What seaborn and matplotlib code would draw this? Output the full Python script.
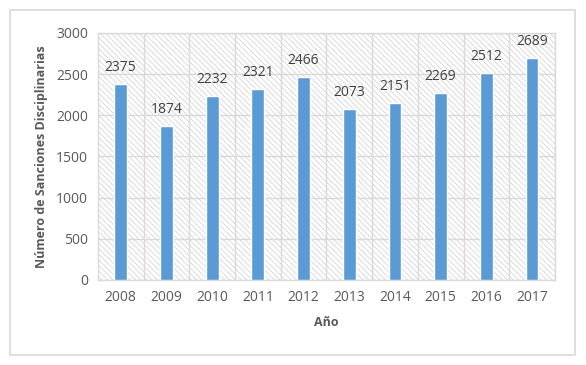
import seaborn as sns
import matplotlib.pyplot as plt
import matplotlib.patches as mpatches
import numpy as np
import pandas as pd

anios = ['2008', '2009', '2010', '2011', '2012', '2013', '2014', '2015', '2016', '2017']
sanciones = [2375, 1874, 2232, 2321, 2466, 2073, 2151, 2269, 2512, 2689]

df = pd.DataFrame({'Año': anios, 'Sanciones': sanciones})

sns.set_style('white')
plt.rcParams['font.family'] = ['Open Sans', 'DejaVu Sans']
plt.rcParams['hatch.color'] = '#D6D6D6'
plt.rcParams['hatch.linewidth'] = 0.6

texto = '#595959'
rejilla = '#D9D9D9'

fig = plt.figure(figsize=(5.86, 3.65), dpi=100)
ax = fig.add_axes([0.167, 0.233, 0.780, 0.677])

# fondo rayado del area de trazado
fondo = mpatches.Rectangle((0, 0), 1, 1, transform=ax.transAxes, facecolor='white',
                           edgecolor='#D6D6D6', hatch='\\' * 6, linewidth=0, zorder=0)
ax.add_patch(fondo)

sns.barplot(data=df, x='Año', y='Sanciones', color='#5B9BD5', width=0.28,
            saturation=1, ax=ax, zorder=3)

for i, v in enumerate(sanciones):
    ax.text(i, v + 110, str(v), ha='center', va='bottom', fontsize=10, color='#404040', zorder=4)

ax.set_ylim(0, 3000)
ax.set_xlim(-0.5, len(anios) - 0.5)
ax.set_yticks(np.arange(0, 3001, 500))
ax.set_xticks(np.arange(len(anios)) + 0.5, minor=True)
ax.grid(axis='y', color=rejilla, linewidth=1, zorder=1)
ax.grid(axis='x', which='minor', color=rejilla, linewidth=1, zorder=1)
ax.grid(axis='x', which='major', visible=False)
ax.set_axisbelow(True)
ax.tick_params(axis='both', which='both', length=0, labelsize=10, labelcolor=texto, pad=7)

for s in ax.spines.values():
    s.set_color(rejilla)
    s.set_linewidth(1)

ax.set_xlabel('Año', fontsize=9, fontweight='bold', color=texto, labelpad=8)
ax.set_ylabel('Número de Sanciones Disciplinarias', fontsize=9, fontweight='bold', color=texto, labelpad=6)

# marco exterior del grafico
marco = mpatches.Rectangle((10 / 586, 10 / 365), 565 / 586, 345 / 365, transform=fig.transFigure,
                           fill=False, edgecolor='#D9D9D9', linewidth=1.2)
fig.patches.append(marco)

plt.savefig('out.png', dpi=100)
